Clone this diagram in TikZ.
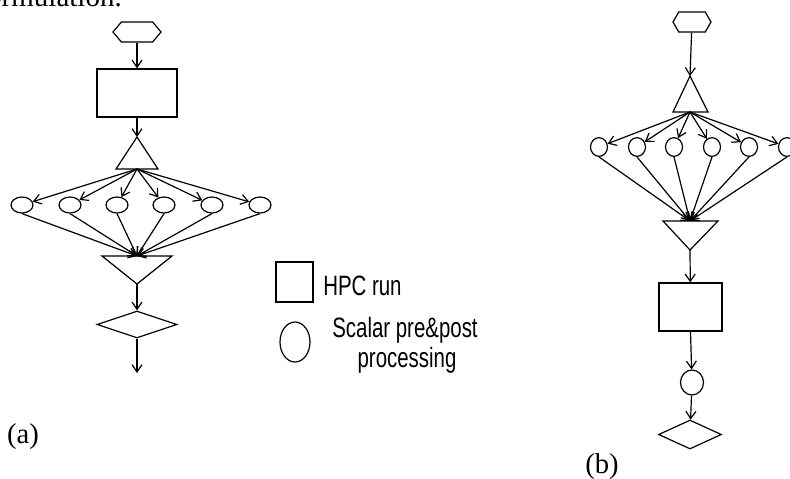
\documentclass[tikz,border=0pt]{standalone}
\usepackage{graphicx}
\usepackage{fontspec}
\setmainfont{Liberation Serif}
\setsansfont{Liberation Sans}
\usetikzlibrary{arrows.meta,shapes.geometric,shapes.symbols}

\newcommand{\legtxt}[1]{\scalebox{0.73}[1]{#1}}

\tikzset{
  flow/.style={line width=0.9pt},
  arr/.style={flow,-{Straight Barb[length=5.5pt,width=7.5pt]}},
  hexbox/.style={draw,flow,signal,signal to=west and east,inner sep=0pt},
  runbox/.style={draw,flow,rectangle,inner sep=0pt},
  scalnode/.style={draw,flow,ellipse,inner sep=0pt},
  testbox/.style={draw,flow,diamond,inner sep=0pt},
  legend/.style={font=\sffamily\fontsize{21}{22.5}\selectfont,inner sep=0pt},
  caption/.style={font=\fontsize{21.5}{24}\selectfont,inner sep=0pt}
}

\begin{document}
\begin{tikzpicture}[x=0.75pt,y=0.75pt,yscale=-1]
\useasboundingbox (0,0) rectangle (790,479);
\clip (0,0) rectangle (790,479);

% Text Node (cut off line above the figure)
\node [font=\fontsize{21.75}{26}\selectfont,inner sep=0pt,anchor=base east] (prev) at (122,6) {formulation.};

%%% (a)
%Shape: Hexagon
\node [hexbox,signal pointer angle=100,minimum width=36pt,minimum height=15pt] (hexA) at (137,32) {};
%Shape: Rectangle
\node [runbox,minimum width=60pt,minimum height=36pt] (hpcA) at (137,93) {};
%Shape: Triangle (split)
\coordinate (topA) at (137,137);
\coordinate (forkA) at (137,169);
\draw [flow] (topA) -- (158,169) -- (116,169) -- cycle;
%Shape: Ellipses
\node [scalnode,minimum width=16.5pt,minimum height=12pt] (cA1) at (22,205) {};
\node [scalnode,minimum width=16.5pt,minimum height=12pt] (cA2) at (70,205) {};
\node [scalnode,minimum width=16.5pt,minimum height=12pt] (cA3) at (117,205) {};
\node [scalnode,minimum width=16.5pt,minimum height=12pt] (cA4) at (164,205) {};
\node [scalnode,minimum width=16.5pt,minimum height=12pt] (cA5) at (212,205) {};
\node [scalnode,minimum width=16.5pt,minimum height=12pt] (cA6) at (260,205) {};
%Shape: Triangle (join)
\coordinate (joinA) at (137,256);
\coordinate (botA) at (137,284);
\draw [flow] (102,256) -- (172,256) -- (botA) -- cycle;
%Shape: Diamond
\node [testbox,minimum width=60pt,minimum height=20.25pt] (dA) at (137,324.5) {};
\coordinate (endA) at (137,373);

%Straight Lines
\draw [arr] (hexA) -- (hpcA);
\draw [arr] (hpcA) -- (topA);
\draw [arr] (forkA) -- (cA1);
\draw [arr] (forkA) -- (cA2);
\draw [arr] (forkA) -- (cA3);
\draw [arr] (forkA) -- (cA4);
\draw [arr] (forkA) -- (cA5);
\draw [arr] (forkA) -- (cA6);
\draw [arr] (cA1.south) -- (joinA);
\draw [arr] (cA2.south) -- (joinA);
\draw [arr] (cA3.south) -- (joinA);
\draw [arr] (cA4.south) -- (joinA);
\draw [arr] (cA5.south) -- (joinA);
\draw [arr] (cA6.south) -- (joinA);
\draw [arr] (botA) -- (dA);
\draw [arr] (dA) -- (endA);

%%% legend
\node [runbox,minimum width=27.75pt,minimum height=30pt] (legHPC) at (294.5,282) {};
\node [scalnode,minimum width=22.5pt,minimum height=30pt] (legScal) at (295,342) {};
% Text Node
\node [legend,anchor=base west] (txtHPC) at (323,295) {\legtxt{HPC run}};
% Text Node
\node [legend,anchor=base] (txtScal) at (405,337) {\legtxt{Scalar pre\&post}};
\node [legend,anchor=base] (txtProc) at (407,367) {\legtxt{processing}};

%%% (b)
%Shape: Hexagon
\node [hexbox,signal pointer angle=120,minimum width=28.5pt,minimum height=15pt] (hexB) at (692,22) {};
%Shape: Triangle (split)
\coordinate (topB) at (690,76);
\coordinate (forkB) at (690,112);
\draw [flow] (topB) -- (708,112) -- (673,112) -- cycle;
%Shape: Ellipses
\node [scalnode,minimum width=12.75pt,minimum height=14pt] (cB1) at (599,147) {};
\node [scalnode,minimum width=12.75pt,minimum height=14pt] (cB2) at (637,147) {};
\node [scalnode,minimum width=12.75pt,minimum height=14pt] (cB3) at (674,147) {};
\node [scalnode,minimum width=12.75pt,minimum height=14pt] (cB4) at (712,147) {};
\node [scalnode,minimum width=12.75pt,minimum height=14pt] (cB5) at (749,147) {};
\node [scalnode,minimum width=12.75pt,minimum height=14pt] (cB6) at (787,147) {};
%Shape: Triangle (join)
\coordinate (joinB) at (690,221);
\coordinate (botB) at (690,250);
\draw [flow] (663,221) -- (718,221) -- (botB) -- cycle;
%Shape: Rectangle
\node [runbox,minimum width=47.25pt,minimum height=36pt] (hpcB) at (690.5,307) {};
%Shape: Ellipse
\node [scalnode,minimum width=17.25pt,minimum height=18.75pt] (eB) at (692,382.5) {};
%Shape: Diamond
\node [testbox,minimum width=47.25pt,minimum height=21.75pt] (dB) at (690,434.5) {};

%Straight Lines
\draw [arr] (hexB) -- (topB);
\draw [arr] (forkB) -- (cB1);
\draw [arr] (forkB) -- (cB2);
\draw [arr] (forkB) -- (cB3);
\draw [arr] (forkB) -- (cB4);
\draw [arr] (forkB) -- (cB5);
\draw [arr] (forkB) -- (cB6);
\draw [arr] (cB1.south) -- (joinB);
\draw [arr] (cB2.south) -- (joinB);
\draw [arr] (cB3.south) -- (joinB);
\draw [arr] (cB4.south) -- (joinB);
\draw [arr] (cB5.south) -- (joinB);
\draw [arr] (cB6.south) -- (joinB);
\draw [arr] (botB) -- (hpcB);
\draw [arr] (hpcB.south) -- (eB);
\draw [arr] (eB) -- (dB);

% Text Node
\node [caption] (capA) at (23,437) {(a)};
% Text Node
\node [caption] (capB) at (602,467) {(b)};

\end{tikzpicture}
\end{document}
